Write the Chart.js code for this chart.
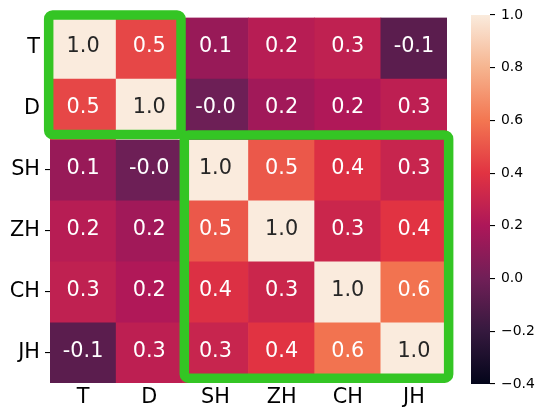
<!DOCTYPE html>
<html><head><meta charset="utf-8">
<script src="https://cdn.jsdelivr.net/npm/chart.js@4/dist/chart.umd.min.js"></script>
<style>
html,body{margin:0;padding:0;background:#fff;overflow:hidden}
#wrap{position:relative;width:543px;height:414px}
canvas{position:absolute;left:0;top:0}
</style></head>
<body><div id="wrap"><canvas id="hm" width="543" height="414"></canvas><canvas id="cb" width="543" height="414"></canvas></div>
<script>
// ---- data ----
const labels = ['T', 'D', 'SH', 'ZH', 'CH', 'JH'];
const rowT  = [1.00, 0.46, 0.13, 0.24, 0.27, -0.07];
const rowD  = [0.46, 1.00, -0.01, 0.16, 0.21, 0.26];
const rowSH = [0.13, -0.01, 1.00, 0.51, 0.38, 0.30];
const rowZH = [0.24, 0.16, 0.51, 1.00, 0.31, 0.40];
const rowCH = [0.27, 0.21, 0.38, 0.31, 1.00, 0.59];
const rowJH = [-0.07, 0.26, 0.30, 0.40, 0.59, 1.00];
const matrix = [rowT, rowD, rowSH, rowZH, rowCH, rowJH];
const colorbarTicks = [-0.4, -0.2, 0.0, 0.2, 0.4, 0.6, 0.8, 1.0];
const vmin = -0.4, vmax = 1.0;
// highlighted blocks, in cell units [col0, row0, col1, row1]
const highlightBlocks = [[-0.02, -0.04, 1.98, 1.92], [2.03, 1.93, 6.025, 5.92]];

// ---- style ----
const rocket = ['#03051a', '#35193e', '#701f57', '#ad1759', '#e13342', '#f37651', '#f6b48f', '#faebdd'];
const FONT = '"DejaVu Sans", sans-serif';
const GREEN = '#34c524';

function hex2rgb(h){ return [1,3,5].map(i => parseInt(h.substr(i,2),16)); }
const rocketRGB = rocket.map(hex2rgb);
function cmapRGB(v){
  let t = (v - vmin) / (vmax - vmin);
  t = Math.max(0, Math.min(1, t));
  const p = t * (rocketRGB.length - 1);
  const i = Math.min(Math.floor(p), rocketRGB.length - 2);
  const f = p - i;
  return rocketRGB[i].map((c, k) => Math.round(c + (rocketRGB[i+1][k] - c) * f));
}
function cmap(v){ const [r,g,b] = cmapRGB(v); return `rgb(${r},${g},${b})`; }
function lum(v){
  const c = cmapRGB(v).map(x => { x /= 255; return x <= 0.03928 ? x/12.92 : Math.pow((x+0.055)/1.055, 2.4); });
  return 0.2126*c[0] + 0.7152*c[1] + 0.0722*c[2];
}
function fmtTick(v){ const s = Math.abs(v).toFixed(1); return (v < -1e-9 ? '\u2212' : '') + s; }

const annot = {
  id: 'annot',
  afterDatasetsDraw(chart){
    const {ctx, scales:{x, y}} = chart;
    const w = x.getPixelForValue(1) - x.getPixelForValue(0);
    const left = x.getPixelForValue(0) - w/2;
    ctx.save();
    ctx.font = '20.8px ' + FONT;
    ctx.textAlign = 'center';
    ctx.textBaseline = 'middle';
    matrix.forEach((row, r) => row.forEach((v, c) => {
      ctx.fillStyle = lum(v) > 0.408 ? '#262626' : '#ffffff';
      ctx.fillText(v.toFixed(1), x.getPixelForValue(c), y.getPixelForValue(r + 0.5) - 1);
    }));
    ctx.strokeStyle = GREEN;
    ctx.lineWidth = 9.5;
    ctx.lineJoin = 'round';
    highlightBlocks.forEach(([a, b, c, d]) => {
      const px0 = left + a*w, px1 = left + c*w;
      const py0 = y.getPixelForValue(b), py1 = y.getPixelForValue(d);
      ctx.beginPath();
      ctx.roundRect(px0, py0, px1 - px0, py1 - py0, 4);
      ctx.stroke();
    });
    ctx.restore();
  }
};

new Chart(document.getElementById('hm'), {
  type: 'bar',
  data: {
    labels: labels,
    datasets: matrix.map((row, r) => ({
      data: labels.map(() => [r, r + 1]),
      backgroundColor: row.map(cmap),
      borderWidth: 0,
      grouped: false,
      categoryPercentage: 1,
      barPercentage: 1
    }))
  },
  options: {
    responsive: false, animation: false, devicePixelRatio: 1,
    layout: {padding: {top: 15, right: 96, left: 0, bottom: 0}},
    plugins: {legend: {display: false}, tooltip: {enabled: false}},
    scales: {
      x: {
        type: 'category',
        grid: {display: false}, border: {display: false},
        ticks: {color: '#000', font: {family: FONT, size: 20.8}, padding: -6, maxRotation: 0},
        afterFit(s){ s.height = 31; }
      },
      y: {
        type: 'linear', min: 0, max: 6, reverse: true,
        afterBuildTicks(s){ s.ticks = labels.map((l, i) => ({value: i + 0.5})); },
        ticks: {callback: (v, i) => labels[i], color: '#000', font: {family: FONT, size: 20.8}, padding: 5},
        grid: {drawOnChartArea: false, drawTicks: true, tickLength: 5, color: '#000', lineWidth: 1.1},
        border: {display: false},
        afterFit(s){ s.width = 50; }
      }
    }
  },
  plugins: [annot]
});

new Chart(document.getElementById('cb'), {
  type: 'bar',
  data: {
    labels: [''],
    datasets: [{
      data: [[vmin, vmax]],
      backgroundColor(ctx){
        const a = ctx.chart.chartArea;
        if (!a) return null;
        const g = ctx.chart.ctx.createLinearGradient(0, a.bottom, 0, a.top);
        rocket.forEach((c, i) => g.addColorStop(i / (rocket.length - 1), c));
        return g;
      },
      borderWidth: 0, categoryPercentage: 1, barPercentage: 1
    }]
  },
  options: {
    responsive: false, animation: false, devicePixelRatio: 1,
    layout: {padding: {top: 15, left: 471, right: 0, bottom: 30}},
    plugins: {legend: {display: false}, tooltip: {enabled: false}},
    scales: {
      x: {display: false},
      y: {
        position: 'right', min: vmin, max: vmax,
        afterBuildTicks(s){ s.ticks = colorbarTicks.map(v => ({value: v})); },
        ticks: {callback: v => fmtTick(v), color: '#000', font: {family: FONT, size: 13.9}, padding: 6},
        grid: {drawOnChartArea: false, drawTicks: true, tickLength: 5, color: '#000', lineWidth: 1.1},
        border: {display: false},
        afterFit(s){ s.width = 53; }
      }
    }
  }
});
</script>
</body></html>
